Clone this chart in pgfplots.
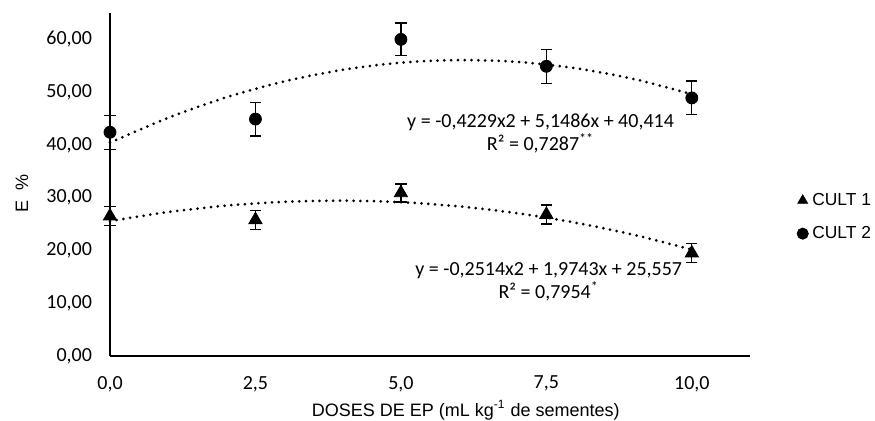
\documentclass[border=0pt]{standalone}
\usepackage{fontspec}
\setmainfont{Carlito}
\newfontfamily\arial{Liberation Sans}
\usepackage{pgfplots}
\pgfplotsset{compat=1.18}

% 1px of the reference = 0.5pt
\begin{document}
\begin{tikzpicture}
\path[use as bounding box] (0,0) rectangle (437.5pt,210.5pt);
\begin{axis}[
    at={(55pt,32.5pt)}, anchor=south west,
    scale only axis, width=320pt, height=171.5pt,
    xmin=0, xmax=11, ymin=0, ymax=65,
    clip=false,
    axis lines=left, axis line style={-, line width=0.8pt},
    major tick length=0pt,
    xtick={0,2.5,5,7.5,10},
    ytick={0,10,20,30,40,50,60},
    /pgf/number format/assume math mode=true,
    /pgf/number format/use comma,
    xticklabel style={/pgf/number format/fixed, /pgf/number format/fixed zerofill, /pgf/number format/precision=1, yshift=-6.5pt},
    yticklabel style={/pgf/number format/fixed, /pgf/number format/fixed zerofill, /pgf/number format/precision=2, xshift=-5.5pt},
    ticklabel style={font=\fontsize{10}{12}\selectfont},
    xlabel={DOSES DE EP (mL kg\textsuperscript{-1} de sementes)},
    xlabel style={font=\arial\fontsize{9}{11}\selectfont, at={(axis description cs:0.556,0)}, anchor=center, yshift=-27pt},
    ylabel={E\ \ \%},
    ylabel style={font=\arial\fontsize{9}{11}\selectfont, at={(axis description cs:-0.1375,0.475)}, anchor=center},
    legend style={at={(1.073,0.405)}, anchor=west, draw=none, fill=none,
        font=\arial\fontsize{8.7}{11}\selectfont, row sep=5pt,
        inner xsep=0pt},
    legend cell align=left,
    legend image code/.code={\draw[#1, mark size=2.8pt] plot coordinates {(0pt,0pt)};},
]

% trend lines
\addplot[black, line width=1.5pt, line cap=round, dash pattern=on 0pt off 3.4pt, smooth, forget plot] coordinates {
    (0,25.557) (1,27.280) (2,28.500) (3,29.217) (4,29.432) (5,29.144)
    (6,28.352) (7,27.059) (8,25.262) (9,22.962) (10,20.160)
};
\addplot[black, line width=1.5pt, line cap=round, dash pattern=on 0pt off 3.4pt, smooth, forget plot] coordinates {
    (0,40.414) (1,45.140) (2,49.020) (3,52.054) (4,54.242) (5,55.585)
    (6,56.081) (7,55.732) (8,54.537) (9,52.497) (10,49.610)
};

% CULT 1
\addplot[black, only marks, mark=triangle*, mark size=3.8pt,
    error bars/.cd, y dir=both, y explicit,
    error bar style={line width=0.6pt},
    error mark options={rotate=90, line width=0.6pt, mark size=2.8pt}] coordinates {
    (0,26.5) +- (0,1.8)
    (2.5,25.8) +- (0,1.8)
    (5,30.9) +- (0,1.7)
    (7.5,26.8) +- (0,1.8)
    (10,19.5) +- (0,1.8)
};
\addlegendentry{CULT 1}

% CULT 2
\addplot[black, only marks, mark=*, mark size=3pt,
    error bars/.cd, y dir=both, y explicit,
    error bar style={line width=0.6pt},
    error mark options={rotate=90, line width=0.6pt, mark size=2.8pt}] coordinates {
    (0,42.4) +- (0,3.2)
    (2.5,44.9) +- (0,3.2)
    (5,60.0) +- (0,3.1)
    (7.5,54.9) +- (0,3.2)
    (10,48.9) +- (0,3.2)
};
\addlegendentry{CULT 2}

\node[font=\fontsize{10}{11.5}\selectfont, align=center] at (axis cs:7.40,42.2)
    {y = -0,4229x2 + 5,1486x + 40,414\\R² = 0,7287\textsuperscript{**}};
\node[font=\fontsize{10}{11.5}\selectfont, align=center] at (axis cs:7.54,14.1)
    {y = -0,2514x2 + 1,9743x + 25,557\\R² = 0,7954\textsuperscript{*}};
\end{axis}
\end{tikzpicture}
\end{document}
